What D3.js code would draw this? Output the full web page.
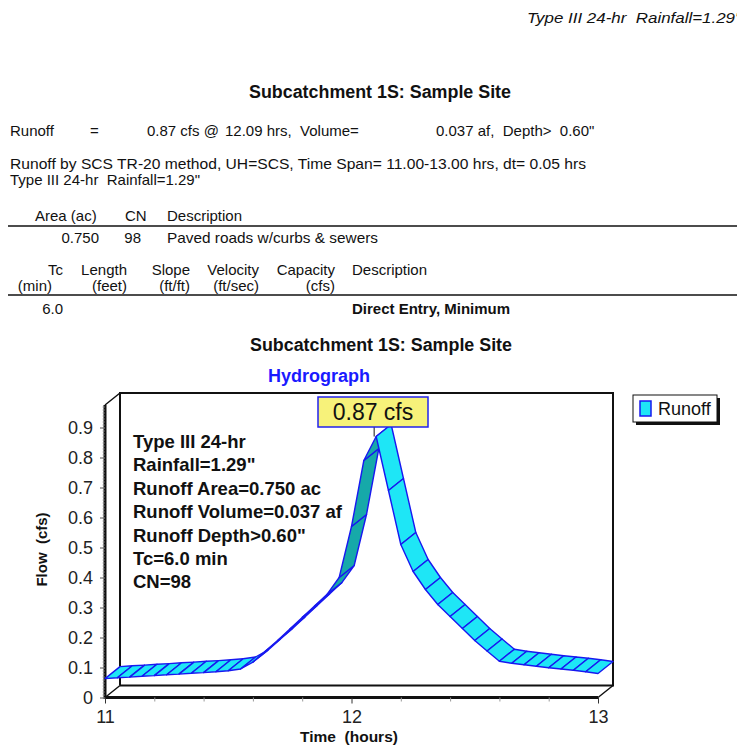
<!DOCTYPE html>
<html><head><meta charset="utf-8">
<script src="https://cdn.jsdelivr.net/npm/d3@7"></script>
<style>
html,body{margin:0;padding:0;background:#fff;}
svg{display:block;font-family:"Liberation Sans",Arial,Helvetica,sans-serif;}
text{white-space:pre;}
</style>
</head><body>
<svg id="c" width="737" height="746"></svg>
<script>
// ---------------- data ----------------
const times = [11.00,11.05,11.10,11.15,11.20,11.25,11.30,11.35,11.40,11.45,
               11.50,11.55,11.60,11.65,11.70,11.75,11.80,11.85,11.90,11.95,
               12.00,12.05,12.10,12.15,12.20,12.25,12.30,12.35,12.40,12.45,
               12.50,12.55,12.60,12.65,12.70,12.75,12.80,12.85,12.90,12.95,13.00];
const flows = [0.063,0.066,0.068,0.071,0.073,0.076,0.078,0.081,0.083,0.086,
               0.089,0.095,0.118,0.154,0.190,0.228,0.267,0.305,0.343,0.400,
               0.570,0.790,0.870,0.690,0.510,0.420,0.360,0.310,0.270,0.230,
               0.190,0.155,0.121,0.114,0.109,0.104,0.099,0.095,0.091,0.086,0.080];
const yTicks = [0,0.1,0.2,0.3,0.4,0.5,0.6,0.7,0.8,0.9];
const yMinorStep = 0.01;
const xTicks = [11,12,13];
const xMinorTicks = [11.2,11.4,11.6,11.8,12.2,12.4,12.6,12.8];
const seriesName = "Runoff";
const peakLabel = "0.87 cfs";
const noteLines = ["Type III 24-hr","Rainfall=1.29\"","Runoff Area=0.750 ac",
                   "Runoff Volume=0.037 af","Runoff Depth>0.60\"","Tc=6.0 min","CN=98"];
const chartTitle = "Subcatchment 1S: Sample Site";
const chartSubtitle = "Hydrograph";
const yLabel = "Flow  (cfs)";
const xLabel = "Time  (hours)";

// ---------------- setup ----------------
const svg = d3.select("#c");
svg.append("rect").attr("width",737).attr("height",746).attr("fill","#fff");

function txt(x, y, s, o = {}) {
  const t = svg.append("text").attr("x", x).attr("y", y).text(s)
    .attr("font-size", o.size || 15)
    .attr("fill", o.fill || "#111")
    .attr("text-anchor", o.anchor || "start");
  if (o.weight) t.attr("font-weight", o.weight);
  if (o.style) t.attr("font-style", o.style);
  if (o.len) t.attr("textLength", o.len).attr("lengthAdjust", "spacingAndGlyphs");
  return t;
}
function hline(y, x1, x2, w) {
  svg.append("line").attr("x1", x1).attr("x2", x2).attr("y1", y).attr("y2", y)
    .attr("stroke", "#111").attr("stroke-width", w || 1.5);
}

// ---------------- report text ----------------
txt(527, 23, "Type III 24-hr  Rainfall=1.29\"", {style:"italic", len:214});
txt(380, 98, chartTitle, {anchor:"middle", weight:"bold", size:17.5, len:262});
txt(10, 136, "Runoff");
txt(90, 136, "=");
txt(147, 136, "0.87 cfs @");
txt(225, 136, "12.09 hrs,  Volume=");
txt(436, 136, "0.037 af,  Depth>  0.60\"");
txt(10, 169, "Runoff by SCS TR-20 method, UH=SCS, Time Span= 11.00-13.00 hrs, dt= 0.05 hrs", {len:576});
txt(10, 185, "Type III 24-hr  Rainfall=1.29\"");

txt(35, 221, "Area (ac)");
txt(125, 221, "CN");
txt(167, 221, "Description");
hline(226, 8, 737);
txt(99, 243, "0.750", {anchor:"end"});
txt(141, 243, "98", {anchor:"end"});
txt(167, 243, "Paved roads w/curbs & sewers", {len:211});

txt(63, 275, "Tc", {anchor:"end"});
txt(127, 275, "Length", {anchor:"end"});
txt(190, 275, "Slope", {anchor:"end"});
txt(259, 275, "Velocity", {anchor:"end"});
txt(335, 275, "Capacity", {anchor:"end"});
txt(352, 275, "Description");
txt(52, 291, "(min)", {anchor:"end"});
txt(127, 291, "(feet)", {anchor:"end"});
txt(190, 291, "(ft/ft)", {anchor:"end"});
txt(259, 291, "(ft/sec)", {anchor:"end"});
txt(335, 291, "(cfs)", {anchor:"end"});
hline(295, 8, 737);
txt(63, 314, "6.0", {anchor:"end"});
txt(352, 314, "Direct Entry, Minimum", {weight:"bold"});

txt(381, 351, chartTitle, {anchor:"middle", weight:"bold", size:17.5, len:262});
txt(319, 382, chartSubtitle, {anchor:"middle", weight:"bold", size:18, fill:"#1a1aff"});

// ---------------- chart ----------------
const x = d3.scaleLinear().domain([11, 13]).range([105, 598]);
const y = d3.scaleLinear().domain([0, 0.9]).range([697.5, 427.5]);
const DX = 15, DY = -12;           // 3-D depth offset
const yTop = 0.975;                // top of the frame in data units

const frame = svg.append("g").attr("fill", "none").attr("stroke", "#111");
// back wall
frame.append("path").attr("stroke-width", 2)
  .attr("d", `M${x(11)+DX},${y(0)+DY} V${y(yTop)+DY} H${x(13)+DX} V${y(0)+DY} H${x(11)+DX}`);
// depth diagonals
frame.append("path").attr("stroke-width", 1.5)
  .attr("d", `M${x(11)},${y(yTop)} l${DX},${DY} M${x(11)},${y(0)} l${DX},${DY} M${x(13)},${y(0)} l${DX},${DY}`);

// ---- ribbon ----
const pts = times.map((t, i) => ({x: x(t), y: y(flows[i])}));
const rib = svg.append("g");
for (let i = 0; i < pts.length - 1; i++) {
  const a = pts[i], b = pts[i + 1];
  const sx = b.x - a.x, sy = b.y - a.y;
  const cross = sx * DY - sy * DX;
  const fill = cross < 0 ? "#1ee6f6" : "#16a9a9";
  rib.append("path")
    .attr("d", `M${a.x},${a.y} L${b.x},${b.y} L${b.x+DX},${b.y+DY} L${a.x+DX},${a.y+DY} Z`)
    .attr("fill", fill).attr("stroke", "#1818f0").attr("stroke-width", 1.4)
    .attr("stroke-linejoin", "round");
}

// front axes lines
frame.append("path").attr("stroke-width", 3)
  .attr("d", `M${x(11)},${y(yTop)} V${y(0)} H${x(13)}`);

// y axis
const yAxis = d3.axisLeft(y).tickValues(yTicks).tickSize(5).tickPadding(7)
  .tickFormat(d => d === 0 ? "0" : d3.format(".1f")(d));
const gy = svg.append("g").attr("transform", `translate(${x(11)},0)`).call(yAxis);
gy.select(".domain").remove();
gy.selectAll("text").attr("font-size", 18).attr("fill", "#222")
  .attr("font-family", '"Liberation Sans",Arial,sans-serif');
gy.selectAll("line").attr("stroke", "#555");
const yMinor = d3.range(0, 0.9 + 1e-9 + 0.07, yMinorStep).filter(v => v <= yTop);
const gym = svg.append("g").attr("transform", `translate(${x(11)},0)`)
  .call(d3.axisLeft(y).tickValues(yMinor).tickSize(2.5).tickFormat(""));
gym.select(".domain").remove();
gym.selectAll("line").attr("stroke", "#888").attr("stroke-width", 0.8);

// x axis
const xAxis = d3.axisBottom(x).tickValues(xTicks).tickSize(6).tickPadding(7).tickFormat(d3.format("d"));
const gx = svg.append("g").attr("transform", `translate(0,${y(0)})`).call(xAxis);
gx.select(".domain").remove();
gx.selectAll("text").attr("font-size", 18).attr("fill", "#222")
  .attr("font-family", '"Liberation Sans",Arial,sans-serif');
gx.selectAll("line").attr("stroke", "#333");
const gxm = svg.append("g").attr("transform", `translate(0,${y(0)})`)
  .call(d3.axisBottom(x).tickValues(xMinorTicks).tickSize(4).tickFormat(""));
gxm.select(".domain").remove();
gxm.selectAll("line").attr("stroke", "#999");

// axis titles
svg.append("text").attr("transform", `translate(47,${y(0.5)+2}) rotate(-90)`)
  .attr("text-anchor", "middle").attr("font-size", 15).attr("font-weight", "bold")
  .attr("fill", "#111").text(yLabel);
txt(349, 742, xLabel, {anchor:"middle", weight:"bold", size:15.5});

// note lines
noteLines.forEach((s, i) => {
  txt(133, 448 + i * 23.4, s, {weight:"bold", size:18.5});
});

// peak label
const iPeak = d3.maxIndex(flows);
const px = pts[iPeak].x, py = pts[iPeak].y;
svg.append("line").attr("x1", px - 2).attr("x2", px - 2).attr("y1", 427).attr("y2", py)
  .attr("stroke", "#111").attr("stroke-width", 1);
svg.append("rect").attr("x", 318).attr("y", 397).attr("width", 110).attr("height", 30)
  .attr("fill", "#f7f27a").attr("stroke", "#2222ee").attr("stroke-width", 1.5);
txt(373, 420, peakLabel, {anchor:"middle", size:23});

// legend
svg.append("rect").attr("x", 636).attr("y", 398).attr("width", 84).attr("height", 27).attr("fill", "#111");
svg.append("rect").attr("x", 633).attr("y", 395).attr("width", 84).attr("height", 27)
  .attr("fill", "#fff").attr("stroke", "#111").attr("stroke-width", 1);
svg.append("rect").attr("x", 640).attr("y", 401).attr("width", 11).attr("height", 15)
  .attr("fill", "#1ee6f6").attr("stroke", "#1818f0").attr("stroke-width", 1.5);
txt(658, 415, seriesName, {size:18});
</script>
</body></html>
